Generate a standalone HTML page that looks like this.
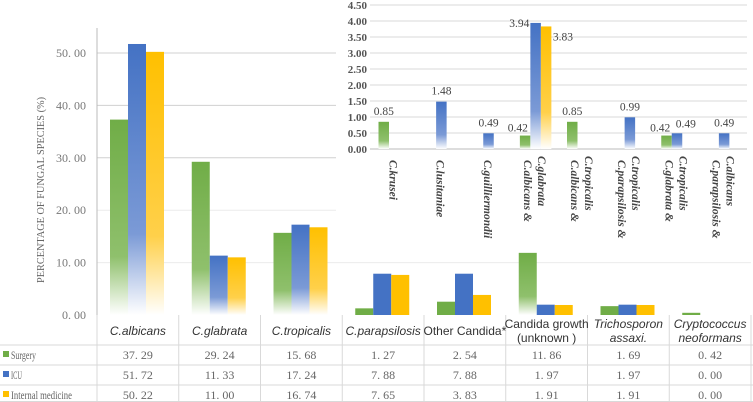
<!DOCTYPE html>
<html><head><meta charset="utf-8"><style>
html,body{margin:0;padding:0;background:#fff;}
svg{display:block;font-family:"Liberation Serif",serif;}
</style></head><body>
<svg id="chart" width="753" height="402" viewBox="0 0 753 402">
<defs>
<linearGradient id="gG" x1="0" y1="0" x2="0" y2="1"><stop offset="0" stop-color="#70ad47"/><stop offset="0.7" stop-color="#8fc06c"/><stop offset="1" stop-color="#ffffff"/></linearGradient>
<linearGradient id="gB" x1="0" y1="0" x2="0" y2="1"><stop offset="0" stop-color="#4472c4"/><stop offset="0.7" stop-color="#7b9ad6"/><stop offset="1" stop-color="#ffffff"/></linearGradient>
<linearGradient id="gY" x1="0" y1="0" x2="0" y2="1"><stop offset="0" stop-color="#ffc000"/><stop offset="0.7" stop-color="#ffd04a"/><stop offset="1" stop-color="#ffffff"/></linearGradient>
</defs>
<g id="main"></g><g id="inset"></g><g id="table"></g>
</svg>
<script>
const categories=["C.albicans","C.glabrata","C.tropicalis","C.parapsilosis","Other Candida*","Candida growth|(unknown )","Trichosporon|assaxi.","Cryptococcus|neoformans"];
const italicCat=[true,true,true,true,false,false,true,true];
const seriesNames=["Surgery","ICU","Internal medicine"];
const surgery=[37.29,29.24,15.68,1.27,2.54,11.86,1.69,0.42];
const icu=[51.72,11.33,17.24,7.88,7.88,1.97,1.97,0.00];
const internal=[50.22,11.00,16.74,7.65,3.83,1.91,1.91,0.00];
const yTicks=[0,10,20,30,40,50];
const insetCats=["C.krusei","C.lusitaniae","C.guilliermondii","C.glabrata|C.albicans &","C.tropicalis|C.albicans &","C.tropicalis|C.parapsilosis &","C.tropicalis|C.glabrata &","C.albicans|C.parapsilosis &"];
const insetSurgery=[0.85,0,0,0.42,0.85,0,0.42,0];
const insetIcu=[0,1.48,0.49,3.94,0,0.99,0.49,0.49];
const insetInternal=[0,0,0,3.83,0,0,0,0];
const insetTicks=[0,0.5,1,1.5,2,2.5,3,3.5,4,4.5];

const NS="http://www.w3.org/2000/svg";
function mk(tag,attrs,parent,text){const e=document.createElementNS(NS,tag);for(const k in attrs)e.setAttribute(k,attrs[k]);if(text!==undefined)e.textContent=text;parent.appendChild(e);return e;}
const colors=["#70ad47","#4472c4","#ffc000"],grads=["url(#gG)","url(#gB)","url(#gY)"];
const series=[surgery,icu,internal];
const X0=97,CW=81.75,Y0=315,PPU=5.24;
const xm=i=>X0+i*CW, ym=v=>Y0-v*PPU;
const main=document.getElementById('main');
yTicks.forEach(t=>{
 if(t>0){const gl=mk('line',{x1:X0,x2:t>=30?340:751,y1:ym(t),y2:ym(t),stroke:t>=30?'#d0d0d0':'#ececec','stroke-width':1},main);
 }
 const tl=mk('text',{x:86,y:ym(t)+4,'text-anchor':'end','font-size':12,fill:'#777'},main,t.toFixed(2).replace('.','. '));
 
});
const ax=mk('line',{x1:X0,x2:X0,y1:28,y2:Y0,stroke:'#bbb'},main);
const yt=mk('text',{transform:'translate(44,190) rotate(-90)','text-anchor':'middle','font-size':10.5,fill:'#666',textLength:186,lengthAdjust:'spacingAndGlyphs'},main,'PERCENTAGE OF FUNGAL SPECIES (%)');

series.forEach((s,si)=>s.forEach((v,i)=>{
 const h=v*PPU;if(h<=0)return;
 const r=mk('rect',{x:xm(i)+13+si*18,y:ym(v),width:18,height:h,fill:v>=10?grads[si]:colors[si]},main);
 
}));
const inset=document.getElementById('inset');
const IX0=370,IX1=747,ICW=(IX1-IX0)/8,IY0=149,IPPU=32;
const xi=i=>IX0+i*ICW, yi=v=>IY0-v*IPPU;
const bg=mk('rect',{x:336,y:0,width:417,height:240,fill:'#fff'},inset);
insetTicks.forEach(t=>{
 const gl=mk('line',{x1:IX0,x2:IX1,y1:yi(t),y2:yi(t),stroke:t===0?'#bbb':'#d9d9d9'},inset);
 
 const tl=mk('text',{x:367,y:yi(t)+4,'text-anchor':'end','font-size':11,'font-weight':'bold',fill:'#555'},inset,t.toFixed(2));
 
});
[insetSurgery,insetIcu,insetInternal].forEach((s,si)=>s.forEach((v,i)=>{
 if(v<=0)return;
 const bx=xi(i)+8.5+si*10.5;
 const r=mk('rect',{x:bx,y:yi(v),width:10.5,height:v*IPPU,fill:grads[si]},inset);
 
 let lx=bx+5.25,anchor='middle',ly=yi(v)-7;
 if(i===3&&si===1){lx=bx-1;anchor='end';ly=yi(v)+4;}
 if(i===3&&si===2){lx=bx+12;anchor='start';ly=yi(v)+14;}
 if(i===3&&si===0){lx=bx+8;anchor='end';ly=yi(v)-4;}
 if(i===6&&si===0){lx=bx+9;anchor='end';ly=yi(v)-4;}
 if(i===6&&si===1){lx=bx+4;anchor='start';ly=yi(v)-6;}
 const lb=mk('text',{x:lx,y:ly,'text-anchor':anchor,'font-size':11.5,fill:'#444'},inset,v.toFixed(2));
 
}));
insetCats.forEach((c,i)=>{
 const parts=c.split('|');const cx=xi(i)+ICW/2;
 parts.forEach((p,pi)=>{
  const off=parts.length===1?0:(pi===0?7:-7);
  const t=mk('text',{transform:`translate(${cx+off-4},${parts.length===1?160:(pi===0?156:160)}) rotate(90)`,'font-size':11.5,'font-style':'italic','font-weight':'bold',fill:'#444'},inset,p);
  
 });
});
const tb=document.getElementById('table');
const rows=[345,365,385,402];
const hl=(y)=>{const l=mk('line',{x1:0,x2:753,y1:y,y2:y,stroke:'#d9d9d9'},tb);};
[345,365,385,401.5].forEach(hl);
for(let i=0;i<=8;i++){const l=mk('line',{x1:xm(i),x2:xm(i),y1:Y0,y2:402,stroke:'#d9d9d9'},tb);}
categories.forEach((c,i)=>{
 const parts=c.split('|');const cx=xm(i)+CW/2;
 parts.forEach((p,pi)=>{
  const y=parts.length===1?335:(pi===0?328:342);
  const t=mk('text',{x:cx,y:y,'text-anchor':'middle','font-size':12,'font-family':'"Liberation Sans",sans-serif','font-style':italicCat[i]?'italic':'normal',fill:'#333'},tb,p);
  
 });
});
const legendLen=[25,11,61];
series.forEach((s,si)=>{
 const ry=rows[si]+14;
 const sw=mk('rect',{x:3,y:ry-8,width:6,height:6,fill:colors[si]},tb);
 const ln=mk('text',{x:11,y:ry,'font-size':11.5,fill:'#666',textLength:legendLen[si],lengthAdjust:'spacingAndGlyphs'},tb,seriesNames[si]);
 
 s.forEach((v,i)=>{const t=mk('text',{x:xm(i)+CW/2,y:ry,'text-anchor':'middle','font-size':12,fill:'#666'},tb,v.toFixed(2).replace('.','. '));
 });
});
</script>
</body></html>
